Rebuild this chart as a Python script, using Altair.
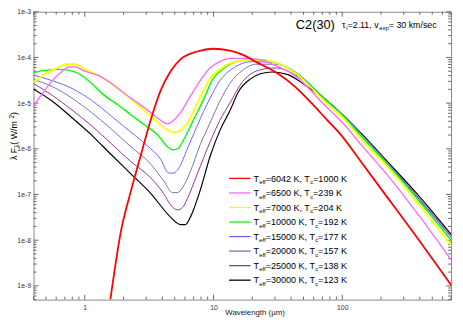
import altair as alt
import pandas as pd

W, H = 425, 293

TEFF = ["6042", "6500", "7000", "10000", "15000", "20000", "25000", "30000"]
TC = ["1000", "239", "204", "192", "177", "157", "138", "123"]
COLORS = ["#ff0000", "#ff66ff", "#ffff00", "#00ff00", "#6666ff", "#7373b8", "#993399", "#000000"]
STROKES = [1.8, 1.3, 1.8, 1.4, 1.0, 1.0, 1.0, 1.2]

LAM_6042 = [1.58, 1.92, 2.29, 2.73, 3.26, 3.89, 4.64, 5.53, 7.47, 9.9, 13.4, 16.8, 21.2, 31.8, 42.9, 57.8, 76.7, 98, 140, 221, 344, 709]
F_6042 = [5.0e-10, 1.7e-8, 1.23e-7, 7.4e-7, 4.4e-6, 1.9e-5, 5.0e-5, 9.1e-5, 1.35e-4, 1.55e-4, 1.41e-4, 1.15e-4, 8.1e-5, 4.4e-5, 2.3e-5, 1.0e-5, 4.2e-6, 2.0e-6, 5.2e-7, 9.1e-8, 1.7e-8, 1.0e-9]

LAM_6500 = [0.39, 0.468, 0.56, 0.667, 0.754, 0.838, 1.0, 1.28, 1.61, 2.03, 2.59, 3.26, 3.89, 4.40, 4.89, 5.53, 6.61, 7.88, 9.4, 11.2, 13.4, 18.7, 23.9, 28.6, 42.9, 72.8, 103.6, 140, 221, 396, 709]
F_6500 = [7.8e-6, 1.62e-5, 3.1e-5, 5.0e-5, 6.2e-5, 6.2e-5, 5.0e-5, 4.0e-5, 2.7e-5, 1.62e-5, 1.0e-5, 6.2e-6, 4.2e-6, 3.5e-6, 4.2e-6, 6.2e-6, 1.41e-5, 3.1e-5, 5.9e-5, 8.1e-5, 9.5e-5, 9.5e-5, 8.7e-5, 7.1e-5, 4.0e-5, 9.1e-6, 3.4e-6, 1.23e-6, 2.8e-7, 3.4e-8, 3.5e-9]

LAM_7000 = [0.39, 0.494, 0.632, 0.703, 0.838, 1.0, 1.28, 1.61, 2.03, 2.59, 3.26, 4.10, 4.89, 5.53, 6.26, 7.47, 9.4, 11.2, 13.4, 20.1, 28.6, 42.9, 72.8, 103.6, 140, 221, 396, 709]
F_7000 = [2.7e-5, 4.4e-5, 6.2e-5, 7.1e-5, 7.1e-5, 5.5e-5, 4.0e-5, 2.7e-5, 1.62e-5, 9.1e-6, 5.2e-6, 2.95e-6, 2.3e-6, 2.5e-6, 3.7e-6, 1.0e-5, 3.5e-5, 5.5e-5, 7.4e-5, 9.1e-5, 8.1e-5, 4.6e-5, 1.1e-5, 4.4e-6, 1.62e-6, 4.2e-7, 5.9e-8, 7.4e-9]

LAM_10000 = [0.39, 0.494, 0.632, 0.754, 0.90, 1.13, 1.42, 1.82, 2.29, 2.88, 3.69, 4.40, 4.81, 5.25, 5.84, 6.96, 8.31, 9.9, 11.8, 13.4, 16.8, 21.2, 28.6, 42.9, 72.8, 103.6, 140, 221, 396, 709]
F_10000 = [4.6e-5, 5.2e-5, 5.5e-5, 5.2e-5, 4.4e-5, 2.7e-5, 1.48e-5, 9.1e-6, 5.5e-6, 3.4e-6, 2.0e-6, 1.1e-6, 9.5e-7, 1.0e-6, 1.55e-6, 4.2e-6, 1.15e-5, 3.4e-5, 5.5e-5, 7.1e-5, 8.7e-5, 9.1e-5, 8.1e-5, 4.8e-5, 1.23e-5, 5.0e-6, 1.9e-6, 4.8e-7, 7.1e-8, 9.5e-9]

LAM_15000 = [0.39, 0.56, 0.795, 1.13, 1.61, 2.29, 3.26, 3.89, 4.48, 4.89, 5.35, 6.26, 7.47, 9.4, 11.2, 13.4, 20.1, 28.6, 42.9, 72.8, 103.6, 140, 221, 396, 709]
F_15000 = [4.2e-5, 3.1e-5, 2.1e-5, 1.15e-5, 5.2e-6, 2.3e-6, 1.0e-6, 5.9e-7, 2.95e-7, 2.95e-7, 3.7e-7, 1.0e-6, 3.2e-6, 1.29e-5, 3.1e-5, 5.2e-5, 8.1e-5, 7.8e-5, 4.8e-5, 1.29e-5, 5.2e-6, 2.1e-6, 5.2e-7, 7.8e-8, 1.1e-8]

LAM_20000 = [0.39, 0.56, 0.795, 1.13, 1.61, 2.29, 3.26, 4.10, 4.81, 5.25, 5.74, 6.61, 7.88, 9.4, 11.2, 13.4, 16.8, 21.2, 30.1, 42.9, 72.8, 103.6, 140, 221, 396, 709]
F_20000 = [3.4e-5, 2.3e-5, 1.29e-5, 6.2e-6, 2.7e-6, 1.1e-6, 4.6e-7, 2.0e-7, 1.1e-7, 1.1e-7, 1.41e-7, 3.2e-7, 1.23e-6, 3.7e-6, 1.1e-5, 2.7e-5, 5.2e-5, 7.1e-5, 7.1e-5, 4.6e-5, 1.29e-5, 5.2e-6, 2.1e-6, 5.2e-7, 7.8e-8, 1.15e-8]

LAM_25000 = [0.39, 0.56, 0.795, 1.13, 1.61, 2.29, 3.26, 4.10, 4.64, 5.25, 5.74, 6.26, 7.47, 9.4, 11.2, 13.4, 16.8, 23.9, 30.1, 42.9, 72.8, 103.6, 140, 221, 396, 709]
F_25000 = [2.8e-5, 1.48e-5, 7.1e-6, 3.2e-6, 1.29e-6, 5.2e-7, 2.3e-7, 1.05e-7, 5.9e-8, 4.6e-8, 5.2e-8, 8.1e-8, 2.8e-7, 1.41e-6, 4.2e-6, 1.0e-5, 2.95e-5, 5.5e-5, 5.9e-5, 4.2e-5, 1.23e-5, 5.2e-6, 2.1e-6, 5.2e-7, 8.1e-8, 1.23e-8]

LAM_30000 = [0.39, 0.56, 0.795, 1.13, 1.61, 2.29, 3.26, 4.64, 5.53, 6.05, 6.61, 7.88, 9.4, 11.2, 13.4, 15.7, 19.4, 23.1, 28.6, 37.9, 51.2, 72.8, 103.6, 140, 221, 396, 709]
F_30000 = [2.1e-5, 1.1e-5, 4.8e-6, 2.0e-6, 7.4e-7, 2.8e-7, 1.05e-7, 3.2e-8, 2.2e-8, 2.2e-8, 3.2e-8, 1.23e-7, 6.8e-7, 2.5e-6, 6.8e-6, 1.82e-5, 3.4e-5, 4.4e-5, 4.8e-5, 4.2e-5, 2.5e-5, 1.23e-5, 5.2e-6, 2.2e-6, 5.5e-7, 9.1e-8, 1.29e-8]

SERIES = [(LAM_6042, F_6042), (LAM_6500, F_6500), (LAM_7000, F_7000), (LAM_10000, F_10000),
          (LAM_15000, F_15000), (LAM_20000, F_20000), (LAM_25000, F_25000), (LAM_30000, F_30000)]

X_MAJOR = [1, 10, 100]
X_MINOR = [m * 10.0 ** e for e in (-1, 0, 1, 2) for m in range(2, 10) if 0.4 <= m * 10.0 ** e <= 700]
Y_MAJOR = [1e-9, 1e-8, 1e-7, 1e-6, 1e-5, 1e-4, 1e-3]
Y_MINOR = [m * 10.0 ** e for e in range(-10, -3) for m in range(2, 10) if 5e-10 <= m * 10.0 ** e <= 1e-3]

FONT = "Liberation Sans"
TICK_COLOR = "#666666"

xscale = alt.Scale(type="log", domain=[0.4, 700], nice=False)
yscale = alt.Scale(type="log", domain=[5e-10, 1e-3], nice=False)
xaxis = alt.Axis(values=X_MAJOR, format="d", ticks=False, domain=False, grid=False,
                 labelFontSize=7, labelColor="#333333", labelPadding=4,
                 title="Wavelength (\u00b5m)", titleFontSize=8, titleFontWeight="normal",
                 titleColor="#222222", titleX=225, titleY=9, titleBaseline="top", titleAlign="center")
yaxis = alt.Axis(values=Y_MAJOR, format="~e", ticks=False, domain=False, grid=False,
                 labelFontSize=7, labelColor="#333333", labelPadding=3, title=None)
X = alt.X("lam:Q", scale=xscale, axis=xaxis)
Y = alt.Y("flux:Q", scale=yscale, axis=yaxis)

layers = []
# tick marks (inward)
for vals, L in ((X_MAJOR, 5), (X_MINOR, 3)):
    d = pd.DataFrame({"lam": vals})
    layers.append(alt.Chart(d).mark_rule(color=TICK_COLOR, strokeWidth=1).encode(
        x=X, y=alt.value(H), y2=alt.value(H - L)))
    layers.append(alt.Chart(d).mark_rule(color=TICK_COLOR, strokeWidth=1).encode(
        x=X, y=alt.value(0), y2=alt.value(L)))
for vals, L in ((Y_MAJOR, 5), (Y_MINOR, 3)):
    d = pd.DataFrame({"flux": vals})
    layers.append(alt.Chart(d).mark_rule(color=TICK_COLOR, strokeWidth=1).encode(
        y=Y, x=alt.value(0), x2=alt.value(L)))
    layers.append(alt.Chart(d).mark_rule(color=TICK_COLOR, strokeWidth=1).encode(
        y=Y, x=alt.value(W - L), x2=alt.value(W)))

# curves (red drawn last, on top)
for i in reversed(range(len(SERIES))):
    lam, flux = SERIES[i]
    d = pd.DataFrame({"lam": lam, "flux": flux})
    layers.append(alt.Chart(d).mark_line(color=COLORS[i], strokeWidth=STROKES[i],
                                         interpolate="monotone", clip=True).encode(x=X, y=Y))

# text helpers
CW = {'=': .584, ' ': .278, 'K': .667, ',': .278, 'T': .611, 'e': .556, 'f': .278, 'c': .5,
      'i': .222, '.': .278, 'v': .5, 'x': .5, 'p': .556, 'k': .5, 'm': .833, '/': .278,
      's': .5, '\u03c4': .48, '\u03bb': .5, 'F': .611, '(': .333, ')': .333, 'W': .944,
      'C': .722}


def tw(s, fs):
    return sum(CW.get(ch, .556) for ch in s) * fs


def run(segs, x0, y0, fs, sfs, shift, rotated=False):
    rows = []
    pos = 0.0
    for text, kind in segs:
        size = fs if kind == "n" else sfs
        off = 0 if kind == "n" else (shift if kind == "sub" else -shift - 1)
        if rotated:
            rows.append({"px": x0 + off, "py": y0 - pos, "t": text, "fs": size})
        else:
            rows.append({"px": x0 + pos, "py": y0 + off, "t": text, "fs": size})
        pos += tw(text, size)
    return rows


hrows = []
leg_rows = []
for i in range(len(TEFF)):
    yc = 169.6 + 14.8 * i
    leg_rows.append({"x1": 199, "x2": 221, "yy": yc, "col": COLORS[i]})
    segs = [("T", "n"), ("eff", "sub"), (f"={TEFF[i]} K, T", "n"), ("c", "sub"), (f"={TC[i]} K", "n")]
    hrows += run(segs, 224, yc + 3.3, 9.2, 6, 2.5)

hrows += run([("C2(30)", "n")], 267, 17.6, 13, 13, 0)
hrows += run([("\u03c4", "n"), ("i", "sub"), ("=2.11, v", "n"), ("exp", "sub"), ("  = 30 km/sec", "n")],
             314, 16.2, 9, 6, 2.3)

vrows = run([("\u03bb F", "n"), ("\u03bb", "sub"), (" ( W/m", "n"), ("2", "sup"), (" )", "n")],
            -17, 151, 9, 6.5, 2.3, rotated=True)

PX = alt.X("px:Q", scale=None, axis=None)
PY = alt.Y("py:Q", scale=None, axis=None)

layers.append(alt.Chart(pd.DataFrame(leg_rows)).mark_rule(strokeWidth=1.3).encode(
    x=alt.X("x1:Q", scale=None, axis=None), x2="x2:Q",
    y=alt.Y("yy:Q", scale=None, axis=None), color=alt.Color("col:N", scale=None, legend=None)))

layers.append(alt.Chart(pd.DataFrame(hrows)).mark_text(align="left", baseline="alphabetic",
                                                      color="#000000", font=FONT).encode(
    x=PX, y=PY, text="t:N", size=alt.Size("fs:Q", scale=None, legend=None)))

layers.append(alt.Chart(pd.DataFrame(vrows)).mark_text(align="left", baseline="alphabetic", angle=270,
                                                      color="#000000", font=FONT).encode(
    x=PX, y=PY, text="t:N", size=alt.Size("fs:Q", scale=None, legend=None)))

chart = alt.layer(*layers).properties(
    width=W, height=H,
    autosize=alt.AutoSizeParams(type="none"),
    padding={"left": 26, "top": 1, "right": 4, "bottom": 23},
    background="white",
).configure(font=FONT).configure_view(stroke="#888888", strokeWidth=1)

chart.save("out.html", embed_options={"renderer": "svg", "actions": False})
